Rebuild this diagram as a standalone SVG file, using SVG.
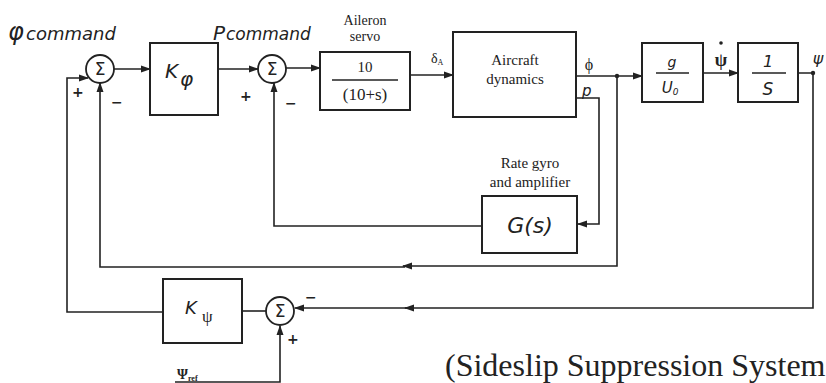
<svg xmlns="http://www.w3.org/2000/svg" width="826" height="383" viewBox="0 0 826 383">
<style>
  .box{fill:#fff;stroke:#222;stroke-width:2}
  .sum{fill:#fff;stroke:#222;stroke-width:1.8}
  .ln{fill:none;stroke:#222;stroke-width:1.6}
  .s{font-family:"Liberation Serif",serif;fill:#222}
  .hw{font-family:"DejaVu Sans","Liberation Sans",sans-serif;font-style:italic;fill:#222}
  .sig{font-family:"DejaVu Sans",sans-serif;font-size:17px;text-anchor:middle;fill:#222}
  .mk{font-family:"DejaVu Sans",sans-serif;font-size:14px;font-weight:bold;fill:#222}
</style>
<defs>
  <marker id="ar" markerWidth="10" markerHeight="8" refX="9" refY="4" orient="auto" markerUnits="userSpaceOnUse">
    <path d="M0,0.5 L10,4 L0,7.5 Z" fill="#222"/>
  </marker>
</defs>
<rect width="826" height="383" fill="#fff"/>

<g id="connectors">
  <path class="ln" d="M163,312 H67 V78 H88" marker-end="url(#ar)"/>
  <path class="ln" d="M114,69 H150" marker-end="url(#ar)"/>
  <path class="ln" d="M218,69 H258" marker-end="url(#ar)"/>
  <path class="ln" d="M286,68 H320" marker-end="url(#ar)"/>
  <path class="ln" d="M410,75 H453" marker-end="url(#ar)"/>
  <path class="ln" d="M576,76 H642" marker-end="url(#ar)"/>
  <path class="ln" d="M703,73 H738" marker-end="url(#ar)"/>
  <path class="ln" d="M798,73 H813 V308 H405" marker-end="url(#ar)"/>
  <path class="ln" d="M407,308 H295" marker-end="url(#ar)"/>
  <path class="ln" d="M617,76 V266 H403" marker-end="url(#ar)"/>
  <path class="ln" d="M405,267 H100 V83" marker-end="url(#ar)"/>
  <path class="ln" d="M576,98 H599 V224 H578" marker-end="url(#ar)"/>
  <path class="ln" d="M482,226 H274 V83" marker-end="url(#ar)"/>
  <path class="ln" d="M266,311 H242"/>
  <path class="ln" d="M175,382 H280 V326" marker-end="url(#ar)"/>
  <circle cx="813" cy="73" r="2.2" fill="#222"/>
  <circle cx="617" cy="76" r="2.2" fill="#222"/>
</g>

<g id="label-phicmd">
  <text class="hw" x="8" y="40" font-size="24">φ</text>
  <text class="hw" x="26" y="40" font-size="18">command</text>
</g>
<g id="label-pcmd">
  <text class="hw" x="213" y="40" font-size="20">P</text>
  <text class="hw" x="226" y="40" font-size="17">command</text>
</g>

<g id="sum1">
  <circle class="sum" cx="100" cy="69" r="14"/>
  <text class="sig" x="100" y="75">Σ</text>
  <text class="mk" x="72" y="97">+</text>
  <text class="mk" x="111" y="107">−</text>
</g>

<g id="k-phi">
  <rect class="box" x="150" y="43" width="68" height="72"/>
  <text class="hw" x="165" y="78" font-size="20">K</text>
  <text class="hw" x="180" y="86" font-size="20" font-style="normal">φ</text>
</g>

<g id="sum2">
  <circle class="sum" cx="272" cy="69" r="14"/>
  <text class="sig" x="272" y="75">Σ</text>
  <text class="mk" x="240" y="101">+</text>
  <text class="mk" x="285" y="108">−</text>
</g>

<g id="aileron-servo">
  <text class="s" x="365" y="25" font-size="14" text-anchor="middle">Aileron</text>
  <text class="s" x="365" y="41" font-size="14" text-anchor="middle">servo</text>
  <rect class="box" x="320" y="52" width="90" height="58"/>
  <text class="s" x="365" y="72" font-size="15" text-anchor="middle">10</text>
  <line x1="332" y1="80" x2="398" y2="80" stroke="#222" stroke-width="1.5"/>
  <text class="s" x="365" y="100" font-size="17" text-anchor="middle">(10+s)</text>
</g>

<text class="s" x="431" y="63" font-size="14">δ<tspan font-size="8" dy="2">A</tspan></text>

<g id="aircraft">
  <rect class="box" x="453" y="32" width="123" height="85"/>
  <text class="s" x="515" y="65" font-size="15" text-anchor="middle">Aircraft</text>
  <text class="s" x="515" y="84" font-size="15" text-anchor="middle">dynamics</text>
</g>

<text class="s" x="589" y="70" font-size="16" text-anchor="middle">ϕ</text>
<text class="hw" x="582" y="96" font-size="15">p</text>

<g id="g-u0">
  <rect class="box" x="642" y="43" width="61" height="59"/>
  <text class="hw" x="672" y="67" font-size="14" text-anchor="middle">g</text>
  <line x1="656" y1="73" x2="689" y2="73" stroke="#222" stroke-width="1.5"/>
  <text class="hw" x="670" y="93" font-size="15" text-anchor="middle">U<tspan font-size="9" dy="2">0</tspan></text>
</g>

<g id="label-psidot">
  <text class="s" x="721" y="66" font-size="18" font-weight="bold" text-anchor="middle">ψ</text>
  <circle cx="721" cy="43" r="1.8" fill="#222"/>
</g>

<g id="integrator">
  <rect class="box" x="738" y="43" width="60" height="59"/>
  <text class="hw" x="768" y="67" font-size="16" text-anchor="middle">1</text>
  <line x1="752" y1="73" x2="786" y2="73" stroke="#222" stroke-width="1.5"/>
  <text class="hw" x="768" y="95" font-size="17" text-anchor="middle">S</text>
</g>

<text class="hw" x="818" y="64" font-size="16" text-anchor="middle">ψ</text>

<g id="rate-gyro">
  <text class="s" x="530" y="168" font-size="15" text-anchor="middle">Rate gyro</text>
  <text class="s" x="530" y="187" font-size="15" text-anchor="middle">and amplifier</text>
  <rect class="box" x="482" y="196" width="95" height="57"/>
  <text class="hw" x="530" y="233" font-size="22" text-anchor="middle">G(s)</text>
</g>

<g id="k-psi">
  <rect class="box" x="163" y="279" width="79" height="64"/>
  <text class="hw" x="185" y="314" font-size="18">K</text>
  <text class="s" x="202" y="322" font-size="17">ψ</text>
</g>

<g id="sum3">
  <circle class="sum" cx="280" cy="311" r="14"/>
  <text class="sig" x="280" y="317">Σ</text>
  <text class="mk" x="305" y="302">−</text>
  <text class="mk" x="287" y="344">+</text>
</g>

<text class="s" x="177" y="379" font-size="14" font-weight="bold">Ψ<tspan font-size="8" dy="2">ref</tspan></text>

<text class="s" x="445" y="376" font-size="32">(Sideslip Suppression System</text>
</svg>
